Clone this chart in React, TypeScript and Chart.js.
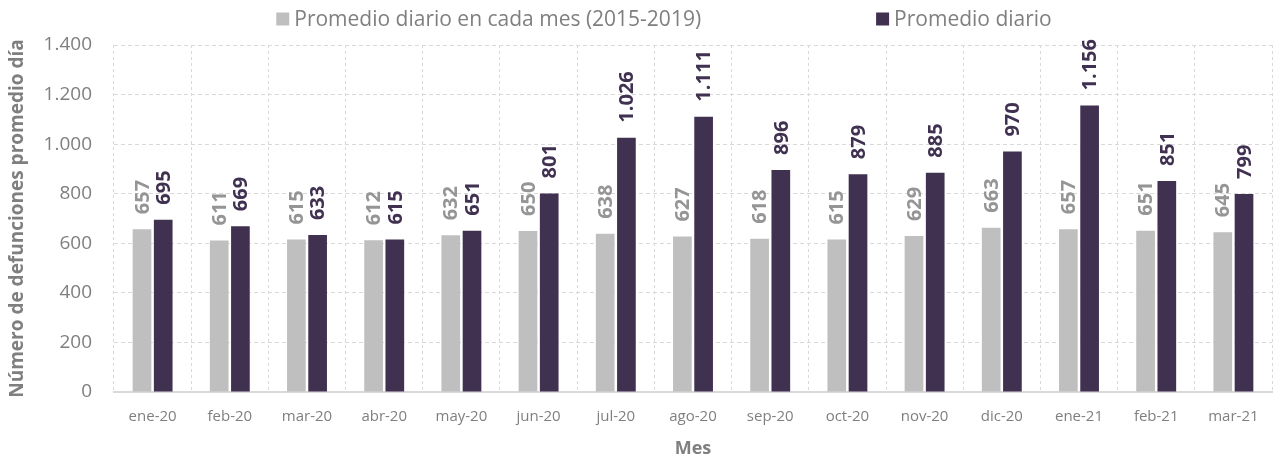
import React, { useEffect, useRef } from "react";
import { Chart, registerables } from "chart.js";

Chart.register(...registerables);

const categories = ["ene-20", "feb-20", "mar-20", "abr-20", "may-20", "jun-20", "jul-20", "ago-20", "sep-20", "oct-20", "nov-20", "dic-20", "ene-21", "feb-21", "mar-21"];
const promedioHistorico = [657, 611, 615, 612, 632, 650, 638, 627, 618, 615, 629, 663, 657, 651, 645];
const promedioDiario = [695, 669, 633, 615, 651, 801, 1026, 1111, 896, 879, 885, 970, 1156, 851, 799];
const seriesNames = ["Promedio diario en cada mes (2015-2019)", "Promedio diario"];
const yTicks = [0, 200, 400, 600, 800, 1000, 1200, 1400];

const GRAY = "#bfbfbf";
const PURPLE = "#403151";
const GRAY_LABEL = "#959595";
const TEXT = "#7f7f7f";
const FONT = "'Open Sans', 'Noto Sans', sans-serif";

const fmt = (v: number) => String(Math.round(v)).replace(/\B(?=(\d{3})+(?!\d))/g, ".");

const labelPlugin = {
  id: "barLabels",
  afterDatasetsDraw(chart: any) {
    const ctx = chart.ctx;
    const colors = [GRAY_LABEL, PURPLE];
    chart.data.datasets.forEach((ds: any, di: number) => {
      const meta = chart.getDatasetMeta(di);
      meta.data.forEach((el: any, i: number) => {
        ctx.save();
        ctx.translate(el.x, el.y - 15);
        ctx.rotate(-Math.PI / 2);
        ctx.font = `bold 20px ${FONT}`;
        ctx.fillStyle = colors[di];
        ctx.textAlign = "left";
        ctx.textBaseline = "middle";
        ctx.fillText(fmt(ds.data[i]), 0, 1);
        ctx.restore();
      });
    });
  },
};

const legendPlugin = {
  id: "customLegend",
  afterDraw(chart: any) {
    const ctx = chart.ctx;
    ctx.save();
    ctx.font = `21px ${FONT}`;
    const box = 13;
    const textGap = 5;
    const itemGap = 175;
    const widths = chart.data.datasets.map((d: any) => box + textGap + ctx.measureText(d.label).width);
    const total = widths.reduce((a: number, b: number) => a + b, 0) + itemGap * (widths.length - 1);
    let x = 664 - total / 2;
    const y = 19;
    chart.data.datasets.forEach((d: any, i: number) => {
      ctx.fillStyle = d.backgroundColor;
      ctx.fillRect(x, y - box / 2, box, box);
      ctx.fillStyle = TEXT;
      ctx.textAlign = "left";
      ctx.textBaseline = "middle";
      ctx.fillText(d.label, x + box + textGap, y + 1);
      x += widths[i] + itemGap;
    });
    ctx.restore();
  },
};

export default function App() {
  const ref = useRef<HTMLCanvasElement | null>(null);
  useEffect(() => {
    if (!ref.current) return;
    const chart = new Chart(ref.current, {
      type: "bar",
      data: {
        labels: categories,
        datasets: [
          { label: seriesNames[0], data: promedioHistorico, backgroundColor: GRAY, barPercentage: 0.88, categoryPercentage: 0.55 },
          { label: seriesNames[1], data: promedioDiario, backgroundColor: PURPLE, barPercentage: 0.88, categoryPercentage: 0.55 },
        ],
      },
      options: {
        animation: false,
        responsive: true,
        maintainAspectRatio: false,
        layout: { padding: { top: 45, right: 4, left: 0, bottom: 0 } },
        plugins: { legend: { display: false }, tooltip: { enabled: false } },
        scales: {
          x: {
            grid: { color: "#d9d9d9", drawTicks: false },
            border: { display: true, color: "#d9d9d9", width: 2, dash: [3, 3] },
            ticks: { color: TEXT, font: { family: FONT, size: 15 }, padding: 16, maxRotation: 0 },
            title: { display: true, text: "Mes", color: TEXT, font: { family: FONT, size: 18, weight: "bold", lineHeight: 1.0 }, padding: { top: 0, bottom: 0 } },
            afterFit: (s: any) => { s.height = 66; },
          },
          y: {
            min: 0,
            max: 1400,
            afterBuildTicks: (s: any) => { s.ticks = yTicks.map((v) => ({ value: v })); },
            grid: { color: "#d9d9d9", drawTicks: false },
            border: { display: false, dash: [4, 3] },
            ticks: { color: TEXT, font: { family: FONT, size: 19 }, padding: 22, callback: (v: any) => fmt(Number(v)) },
            title: { display: true, text: "Número de defunciones promedio día", color: TEXT, font: { family: FONT, size: 19, weight: "bold" }, padding: { top: 6, bottom: 0 } },
            afterFit: (s: any) => { s.width = 114; },
          },
        },
      },
      plugins: [labelPlugin, legendPlugin],
    } as any);
    return () => chart.destroy();
  }, []);
  return (
    <div style={{ position: "fixed", left: 0, top: 0, width: 1276, height: 458, background: "#fff" }}>
      <canvas ref={ref} />
    </div>
  );
}
